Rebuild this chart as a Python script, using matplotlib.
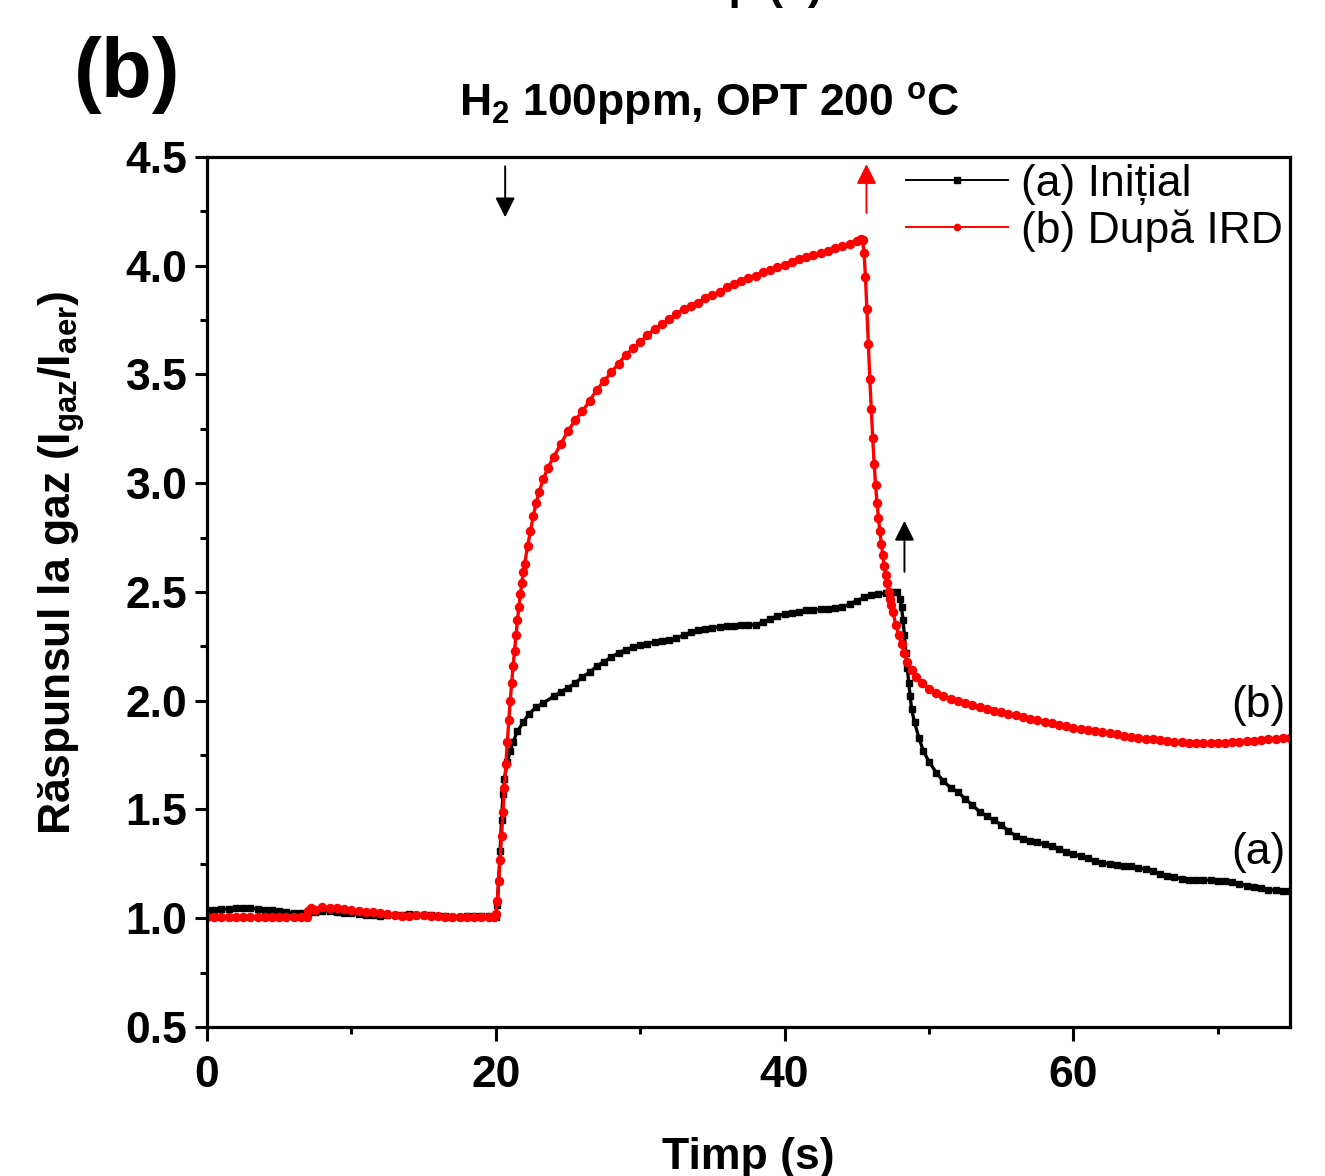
import matplotlib
matplotlib.use("Agg")
import matplotlib.pyplot as plt
from matplotlib.ticker import MultipleLocator, FormatStrFormatter

plt.rcParams['font.family'] = ['Liberation Sans', 'DejaVu Sans']
plt.rcParams['mathtext.fontset'] = 'custom'
plt.rcParams['mathtext.rm'] = 'Liberation Sans'
plt.rcParams['mathtext.bf'] = 'Liberation Sans:bold'
plt.rcParams['mathtext.it'] = 'Liberation Sans:italic'

# (a) Initial - black
t_a = [0, 0.5, 1, 1.5, 2, 2.5, 3, 3.5, 4, 4.5, 5, 5.5, 6, 6.5, 7, 7.5, 8, 8.5, 9, 9.5,
       10, 10.5, 11, 11.5, 12, 12.5, 13, 13.5, 14, 14.5, 15, 15.5, 16, 16.5, 17, 17.5, 18, 18.5, 19, 19.5,
       20, 20.1, 20.2, 20.3, 20.4, 20.5, 20.6, 20.8, 21.0, 21.2, 21.5, 21.9, 22.3, 22.8, 23.3, 24.0,
       24.5, 25.0, 25.5, 26.0, 26.5, 27.0, 27.5, 28.0, 28.5, 29.0, 29.5, 30.0, 30.5, 31, 31.5, 32,
       32.5, 33, 33.5, 34, 34.5, 35, 35.5, 36, 36.5, 37, 37.5, 38, 38.5, 39, 39.5, 40, 40.5, 41,
       41.5, 42, 42.5, 43, 43.5, 44, 44.5, 45, 45.5, 46, 46.5, 47, 47.5, 47.8, 48.0, 48.1, 48.2,
       48.3, 48.4, 48.5, 48.6, 48.7, 48.8, 49.0, 49.3, 49.6, 50.0, 50.5, 51, 51.5, 52, 52.5, 53,
       53.5, 54, 54.5, 55, 55.5, 56, 56.5, 57, 57.5, 58, 58.5, 59, 59.5, 60, 60.5, 61, 61.5, 62,
       62.5, 63, 63.5, 64, 64.5, 65, 65.5, 66, 66.5, 67, 67.5, 68, 68.5, 69, 69.5, 70, 70.5, 71,
       71.5, 72, 72.5, 73, 73.5, 74, 74.5, 75]
r_a = [1.04, 1.04, 1.042, 1.044, 1.046, 1.047, 1.045, 1.043, 1.04, 1.036, 1.032, 1.028, 1.025, 1.024,
       1.026, 1.03, 1.035, 1.033, 1.03, 1.026, 1.022, 1.018, 1.015, 1.013, 1.012, 1.013, 1.015, 1.017,
       1.018, 1.017, 1.016, 1.014, 1.012, 1.01, 1.008, 1.008, 1.009, 1.01, 1.01, 1.009,
       1.008, 1.06, 1.17, 1.31, 1.45, 1.57, 1.64, 1.72, 1.77, 1.81, 1.86, 1.90, 1.94, 1.97, 1.99, 2.02,
       2.04, 2.06, 2.08, 2.11, 2.13, 2.16, 2.18, 2.20, 2.22, 2.235, 2.245, 2.255, 2.262, 2.27, 2.275, 2.28,
       2.29, 2.30, 2.315, 2.325, 2.33, 2.335, 2.34, 2.342, 2.345, 2.347, 2.348, 2.35, 2.36, 2.375, 2.39, 2.40, 2.405, 2.41,
       2.415, 2.418, 2.42, 2.42, 2.425, 2.43, 2.445, 2.46, 2.475, 2.485, 2.49, 2.495, 2.50, 2.50, 2.47, 2.43, 2.37,
       2.30, 2.22, 2.15, 2.08, 2.02, 1.96, 1.90, 1.83, 1.77, 1.72, 1.67, 1.63, 1.60, 1.58, 1.55, 1.52,
       1.49, 1.47, 1.45, 1.43, 1.40, 1.38, 1.365, 1.355, 1.35, 1.34, 1.33, 1.32, 1.305, 1.295, 1.285, 1.275, 1.265, 1.255,
       1.25, 1.245, 1.24, 1.238, 1.232, 1.225, 1.215, 1.205, 1.195, 1.188, 1.182, 1.178, 1.177, 1.176, 1.175, 1.173, 1.17, 1.165,
       1.158, 1.15, 1.143, 1.137, 1.132, 1.128, 1.125, 1.123]

# (b) Dupa IRD - red
t_b = [0, 0.5, 1, 1.5, 2, 2.5, 3, 3.5, 4, 4.5, 5, 5.5, 6, 6.5, 6.9, 7.0, 7.2, 7.5, 8, 8.5, 9, 9.5,
       10, 10.5, 11, 11.5, 12, 12.5, 13, 13.5, 14, 14.5, 15, 15.5, 16, 16.5, 17, 17.5, 18, 18.5, 19, 19.5,
       19.9, 20.0, 20.1, 20.2, 20.3, 20.4, 20.5, 20.6, 20.7, 20.8, 20.9, 21.0, 21.1, 21.2, 21.3, 21.4,
       21.5, 21.6, 21.7, 21.8, 21.9, 22.0, 22.2, 22.4, 22.6, 22.8, 23.0, 23.3, 23.6, 24.0, 24.5, 25.0,
       25.5, 26, 26.5, 27, 27.5, 28, 28.5, 29, 29.5, 30, 30.5, 31, 31.5, 32, 32.5, 33, 33.5, 34, 34.5,
       35, 35.5, 36, 36.5, 37, 37.5, 38, 38.5, 39, 39.5, 40, 40.5, 41, 41.5, 42, 42.5, 43, 43.5, 44,
       44.5, 45, 45.3, 45.4, 45.5, 45.6, 45.7, 45.8, 45.9, 46.0, 46.1, 46.2, 46.3, 46.4, 46.5, 46.6,
       46.7, 46.8, 46.9, 47.0, 47.1, 47.2, 47.3, 47.4, 47.5, 47.7, 47.9, 48.1, 48.3, 48.5, 48.8, 49.1,
       49.5, 50, 50.5, 51, 51.5, 52, 52.5, 53, 53.5, 54, 54.5, 55, 55.5, 56, 56.5, 57, 57.5, 58, 58.5,
       59, 59.5, 60, 60.5, 61, 61.5, 62, 62.5, 63, 63.5, 64, 64.5, 65, 65.5, 66, 66.5, 67, 67.5, 68,
       68.5, 69, 69.5, 70, 70.5, 71, 71.5, 72, 72.5, 73, 73.5, 74, 74.5, 75]
r_b = [1.005, 1.005, 1.005, 1.005, 1.005, 1.005, 1.005, 1.005, 1.005, 1.005, 1.005, 1.005, 1.005, 1.005,
       1.005, 1.035, 1.045, 1.04, 1.05, 1.048, 1.045, 1.042, 1.038, 1.035, 1.03, 1.027, 1.024, 1.02,
       1.016, 1.012, 1.01, 1.013, 1.014, 1.012, 1.01, 1.008, 1.006, 1.005, 1.004, 1.005, 1.006, 1.007,
       1.008, 1.02, 1.08, 1.17, 1.27, 1.38, 1.49, 1.60, 1.71, 1.81, 1.91, 2.00, 2.08, 2.16, 2.23, 2.30,
       2.37, 2.43, 2.49, 2.54, 2.59, 2.63, 2.71, 2.78, 2.85, 2.91, 2.96, 3.02, 3.07, 3.12, 3.18, 3.24,
       3.29, 3.33, 3.38, 3.43, 3.47, 3.51, 3.55, 3.59, 3.62, 3.65, 3.68, 3.71, 3.73, 3.755, 3.78, 3.80, 3.815, 3.83, 3.85,
       3.865, 3.88, 3.90, 3.915, 3.93, 3.945, 3.955, 3.97, 3.98, 3.995, 4.005, 4.015, 4.03, 4.04, 4.05, 4.06, 4.07, 4.08, 4.09,
       4.10, 4.115, 4.125, 4.12, 4.06, 3.95, 3.80, 3.64, 3.48, 3.34, 3.21, 3.09, 2.99, 2.91, 2.84, 2.78,
       2.72, 2.67, 2.62, 2.58, 2.54, 2.50, 2.47, 2.44, 2.41, 2.35, 2.30, 2.26, 2.22, 2.18, 2.14, 2.11,
       2.08, 2.055, 2.035, 2.02, 2.008, 1.998, 1.988, 1.979, 1.971, 1.963, 1.955, 1.948, 1.94, 1.933, 1.925, 1.918, 1.91, 1.903, 1.896,
       1.89, 1.883, 1.877, 1.87, 1.865, 1.86, 1.855, 1.85, 1.845, 1.84, 1.835, 1.83, 1.826, 1.822, 1.818, 1.815, 1.812, 1.81, 1.808,
       1.807, 1.806, 1.806, 1.807, 1.808, 1.81, 1.812, 1.814, 1.817, 1.82, 1.822, 1.825, 1.827, 1.83]

fig = plt.figure(figsize=(13.25, 11.76), dpi=100)
ax = fig.add_axes([0.1562, 0.1267, 0.8174, 0.7398])

ax.plot(t_a, r_a, color='black', marker='s', markersize=5.0, lw=2.4, label='(a) Inițial')
ax.plot(t_b, r_b, color='red', marker='o', markersize=5.8, lw=2.4, label='(b) După IRD')

ax.set_xlim(0, 75)
ax.set_ylim(0.5, 4.5)
ax.xaxis.set_major_locator(MultipleLocator(20))
ax.xaxis.set_minor_locator(MultipleLocator(10))
ax.yaxis.set_major_locator(MultipleLocator(0.5))
ax.yaxis.set_minor_locator(MultipleLocator(0.25))
ax.yaxis.set_major_formatter(FormatStrFormatter('%.1f'))

for s in ax.spines.values():
    s.set_linewidth(2.3)
ax.tick_params(which='major', direction='out', length=10, width=2.2, labelsize=32)
ax.tick_params(which='minor', direction='out', length=5, width=2.2)
ax.tick_params(axis='y', which='major', length=9, pad=5)
ax.tick_params(axis='x', which='major', pad=10)
for lab in ax.get_xticklabels() + ax.get_yticklabels():
    lab.set_fontweight('bold')

ax.set_xlabel('Timp (s)', fontsize=32, fontweight='bold', labelpad=30)
ax.set_ylabel(r'Răspunsul la gaz (I$_{\mathbf{gaz}}$/I$_{\mathbf{aer}}$)', fontsize=32,
              fontweight='bold', labelpad=28, y=0.534)
ax.set_title(r'H$_{\mathbf{2}}$ 100ppm, OPT 200 $^{\mathbf{o}}$C', fontsize=32,
             fontweight='bold', pad=30, x=0.4635)

leg = ax.legend(loc='upper right', frameon=False, fontsize=32, handlelength=2.3,
                handletextpad=0.3, borderaxespad=0.05, labelspacing=0.1, numpoints=1,
                borderpad=0.1)
for h in leg.legend_handles:
    h.set_linewidth(1.4)
    h.set_markersize(4.5)

ax.text(72.8, 1.98, '(b)', fontsize=32, ha='center', va='center')
ax.text(72.8, 1.30, '(a)', fontsize=32, ha='center', va='center')

arrow = dict(arrowstyle='-|>', lw=1.4, mutation_scale=30)
ax.annotate('', xy=(20.65, 4.21), xytext=(20.65, 4.47), arrowprops=dict(arrow, color='black'))
ax.annotate('', xy=(45.67, 4.48), xytext=(45.67, 4.23), arrowprops=dict(arrow, color='red'))
ax.annotate('', xy=(48.3, 2.84), xytext=(48.3, 2.58), arrowprops=dict(arrow, color='black'))

fig.text(0.096, 0.936, '(b)', fontsize=60, fontweight='bold', ha='center', va='center')
fig.text(0.556, 1 + 1 / 1176, 'Timp (s)', fontsize=32, fontweight='bold', ha='center', va='baseline')

fig.savefig('out.png', dpi=100)
